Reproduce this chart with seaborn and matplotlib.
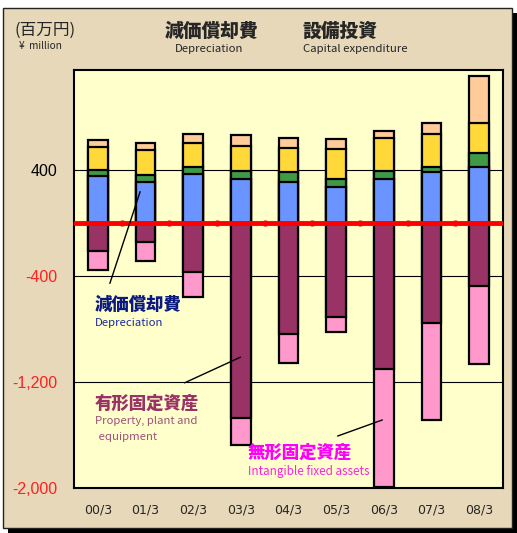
import numpy as np
import pandas as pd
import matplotlib.pyplot as plt
import matplotlib.patches as mpatches
import seaborn as sns

# --- Datos (百万円) ---
years = ["00/3", "01/3", "02/3", "03/3", "04/3", "05/3", "06/3", "07/3", "08/3"]
capex_blue = [358, 313, 371, 331, 308, 270, 336, 383, 421]
capex_green = [43, 48, 50, 65, 75, 64, 53, 41, 104]
capex_yellow = [176, 191, 183, 189, 182, 226, 254, 249, 231]
capex_peach = [46, 53, 66, 78, 75, 73, 55, 85, 357]
dep_tangible = [-213, -140, -366, -1468, -841, -706, -1103, -751, -479]
dep_intangible = [-138, -148, -194, -211, -217, -113, -891, -732, -584]

yticks = [400, -400, -1200, -2000]
ytick_labels = ["400", "-400", "-1,200", "-2,000"]
ytick_colors = ["black", "#FF2020", "#FF2020", "#FF2020"]

# --- Tabla para seaborn (barras superpuestas = apiladas) ---
df = pd.DataFrame({"year": years})
df["blue"] = np.array(capex_blue)
df["green"] = df["blue"] + np.array(capex_green)
df["yellow"] = df["green"] + np.array(capex_yellow)
df["peach"] = df["yellow"] + np.array(capex_peach)
df["maroon"] = np.array(dep_tangible)
df["pink"] = df["maroon"] + np.array(dep_intangible)

sns.set_style("white")
plt.rcParams["font.family"] = ["Noto Sans CJK JP", "DejaVu Sans"]

W, H = 517, 533
fig = plt.figure(figsize=(W / 100, H / 100), dpi=100)
fig.patch.set_facecolor("white")

# fondo con sombra
fig.add_artist(mpatches.Rectangle((8 / W, 0), 509 / W, 1 - 13 / H, transform=fig.transFigure,
                                  facecolor="black", edgecolor="none", zorder=-3))
fig.add_artist(mpatches.Rectangle((3 / W, 5 / H), 509 / W, 1 - 13 / H, transform=fig.transFigure,
                                  facecolor="#E6D8B8", edgecolor="#222222", lw=1, zorder=-2))

ax = fig.add_axes([74 / W, 45 / H, 429 / W, 418 / H])
ax.set_facecolor("#FFFFCC")

for y in [400, -400, -1200]:
    ax.axhline(y, color="black", lw=0.8, zorder=0)

layers = [("peach", "#FFCC99"), ("yellow", "#FFD83A"), ("green", "#3F9A45"), ("blue", "#6A94FF"),
          ("pink", "#FF99CC"), ("maroon", "#993366")]
for col, c in layers:
    sns.barplot(data=df, x="year", y=col, color=c, saturation=1, width=0.41,
                edgecolor="black", linewidth=1.6, ax=ax, zorder=2)

# eje cero rojo con marcas entre categorías
ax.axhline(0, color="#FF0000", lw=3.5, zorder=3)
ax.vlines(np.arange(len(years) - 1) + 0.5, -25, 25, color="#FF0000", lw=2.5, zorder=3)

ax.set_xlim(-0.5, len(years) - 0.5)
ax.set_ylim(-2000, 1155)
ax.set_xlabel("")
ax.set_ylabel("")
ax.set_yticks(yticks)
ax.set_yticklabels(ytick_labels, fontsize=11.5, family="Liberation Sans")
for lab, c in zip(ax.get_yticklabels(), ytick_colors):
    lab.set_color(c)
ax.set_xticks(range(len(years)))
ax.set_xticklabels(years, fontsize=9, family="DejaVu Sans")
ax.tick_params(axis="y", length=0, pad=12)
ax.tick_params(axis="x", length=0, pad=11)
for s in ax.spines.values():
    s.set_color("black")
    s.set_linewidth(1.5)

# --- Encabezados ---
def ftxt(px, py, s, **kw):
    fig.text(px / W, 1 - py / H, s, **kw)

ftxt(45, 30, "(百万円)", fontsize=12, ha="center", va="center")
ftxt(40, 46, "¥  million", fontsize=7.3, ha="center", va="center")
ftxt(211, 31, "減価償却費", fontsize=13.5, fontweight="heavy", ha="center", va="center")
ftxt(209, 49, "Depreciation", fontsize=8.2, ha="center", va="center")
ftxt(340, 31, "設備投資", fontsize=13.5, fontweight="heavy", ha="center", va="center")
ftxt(355, 49, "Capital expenditure", fontsize=8.2, ha="center", va="center")

# --- Etiquetas y líneas guía ---
ftxt(95, 305, "減価償却費", fontsize=12.5, fontweight="heavy", color="#0A1A80", va="center")
ftxt(95, 323, "Depreciation", fontsize=8.2, color="#1A2A9A", va="center")
ftxt(95, 404, "有形固定資産", fontsize=12.5, fontweight="heavy", color="#993366", va="center")
ftxt(95, 421, "Property, plant and", fontsize=8.2, color="#A0507A", va="center")
ftxt(96, 437, " equipment", fontsize=8.2, color="#A0507A", va="center")
ftxt(248, 453, "無形固定資産", fontsize=12.5, fontweight="heavy", color="#FF00FF", va="center")
ftxt(248, 472, "Intangible fixed assets", fontsize=8.4, color="#FF22DD", va="center")

def px2data(px, py):
    return ((px - 74) / 47.67 - 0.5, (223 - py) * 7.547)

for p0, p1 in [((141, 189), (109, 286)), ((243, 356), (182, 384)), ((385, 419), (335, 437))]:
    ax.annotate("", xy=px2data(*p0), xytext=px2data(*p1),
                arrowprops=dict(arrowstyle="-", color="black", lw=1), zorder=4)

plt.savefig("out.png", dpi=100, facecolor=fig.get_facecolor())
